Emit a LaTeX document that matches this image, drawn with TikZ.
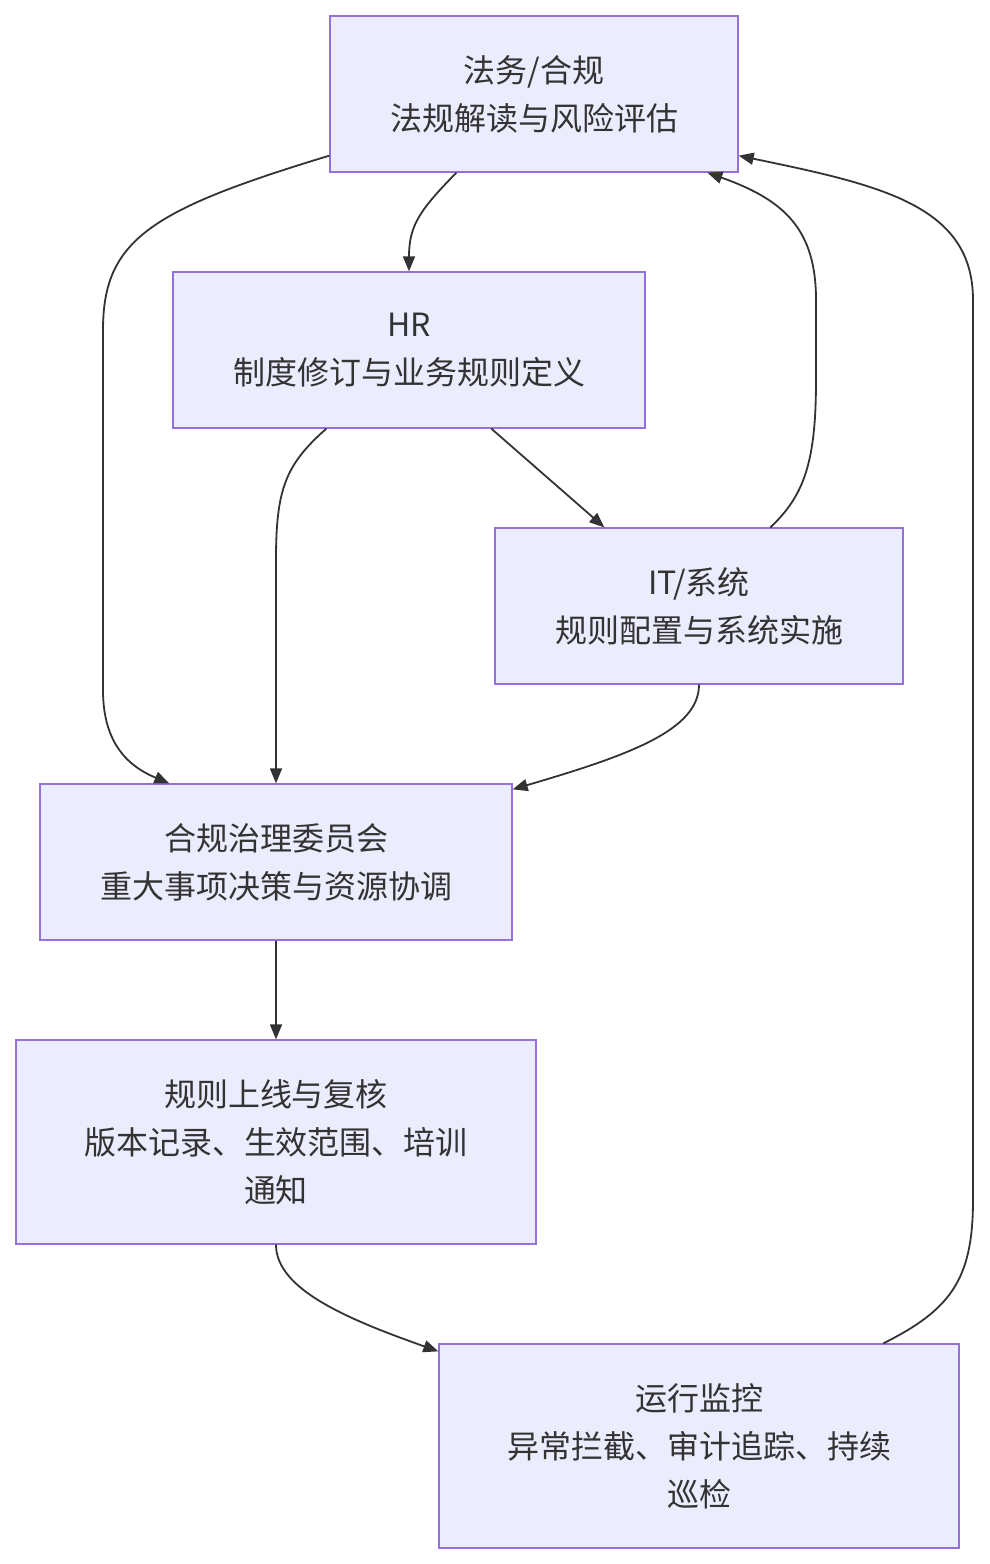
\documentclass[tikz,border=0pt]{standalone}
\usepackage{fontspec}
\setmainfont{Noto Sans CJK SC}
\usetikzlibrary{arrows.meta}
\definecolor{BoxFill}{HTML}{ECECFF}
\definecolor{BoxLine}{HTML}{9370DB}
\definecolor{Ink}{HTML}{333333}

\begin{document}
\begin{tikzpicture}[x=1pt,y=-1pt,>={Triangle[length=15pt,width=12pt]},
  every node/.style={text=Ink},
  stagebox/.style={draw=BoxLine,fill=BoxFill,line width=1.3pt,align=center,inner sep=0pt,
    font=\fontsize{32}{48}\selectfont},
  flow/.style={draw=Ink,line width=1.8pt,->}]
\useasboundingbox[fill=white] (0,0) rectangle (989,1564);
\node[stagebox,minimum width=408pt,minimum height=156pt] (legal) at (534,94){法务/合规\\法规解读与风险评估};
\node[stagebox,minimum width=472pt,minimum height=156pt] (hr) at (409,350){HR\\制度修订与业务规则定义};
\node[stagebox,minimum width=408pt,minimum height=156pt] (it) at (699,606){IT/系统\\规则配置与系统实施};
\node[stagebox,minimum width=472pt,minimum height=156pt] (board) at (276,862){合规治理委员会\\重大事项决策与资源协调};
\node[stagebox,minimum width=520pt,minimum height=204pt] (launch) at (276,1142){规则上线与复核\\版本记录、生效范围、培训\\通知};
\node[stagebox,minimum width=520pt,minimum height=204pt] (monitor) at (699,1446){运行监控\\异常拦截、审计追踪、持续\\巡检};
% connectors
\draw[flow] ([xshift=127pt]legal.south west) .. controls (420,210) and (409,225) .. (hr.north);
\draw[flow] ([yshift=17pt]legal.south west) .. controls (150,210) and (103,240) .. (103,330) -- (103,690)
  .. controls (103,740) and (125,765) .. ([xshift=130pt]board.north west);
\draw[flow] ([xshift=319pt]hr.south west) -- ([xshift=110pt]it.north west);
\draw[flow] ([xshift=154pt]hr.south west) .. controls (285,465) and (276,490) .. (276,560) -- (board.north);
\draw[flow] ([xshift=276pt]it.north west) .. controls (805,495) and (816,460) .. (816,380) -- (816,300)
  .. controls (816,230) and (785,200) .. ([xshift=378pt]legal.south west);
\draw[flow] (it.south) .. controls (699,730) and (630,755) .. ([yshift=-6pt]board.north east);
\draw[flow] (board.south) -- (launch.north);
\draw[flow] (launch.south) .. controls (276,1290) and (350,1320) .. ([yshift=-8pt]monitor.north west);
\draw[flow] ([xshift=445pt]monitor.north west) .. controls (950,1310) and (973,1280) .. (973,1200) -- (973,300)
  .. controls (973,205) and (880,185) .. ([yshift=17pt]legal.south east);
\end{tikzpicture}
\end{document}
